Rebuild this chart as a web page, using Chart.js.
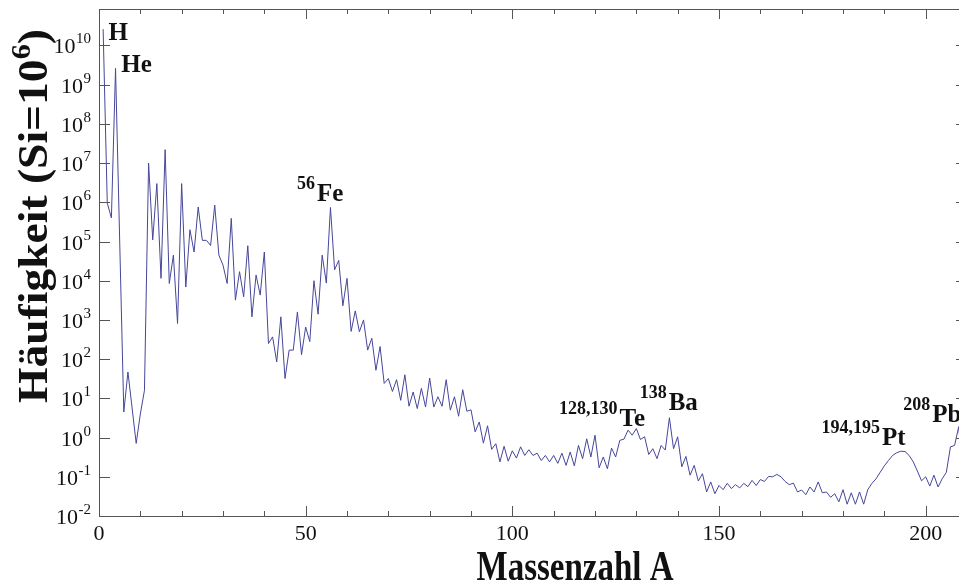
<!DOCTYPE html>
<html>
<head>
<meta charset="utf-8">
<script src="https://cdn.jsdelivr.net/npm/chart.js@4.4.0/dist/chart.umd.min.js"></script>
<style>
    html, body { margin: 0; padding: 0; background: #fff; overflow: hidden; }
    canvas { display: block; }
</style>
</head>
<body>
<canvas id="abundance-chart" width="975" height="583"></canvas>
<script>
// Haeufigkeit je Massenzahl A (Si = 10^6), null = kein stabiles Nuklid
var firstMass = 1
var abundance = [
    2.6e10, 9.5e5, 4.0e5, 2.6e9, null, 4.5, 47, null, 0.71, 4.0,
    16, 1.0e7, 1.1e5, 3.0e6, 1.15e4, 2.2e7, 8.5e3, 4.5e4, 810, 3.0e6,
    6.9e3, 2.0e5, 5.4e4, 7.6e5, 1.07e5, 1.07e5, 7.9e4, 8.5e5, 4.5e4, 2.5e4,
    8.5e3, 3.9e5, 3.2e3, 1.7e4, 3.9e3, 7.8e4, 1.2e3, 1.4e4, 4.3e3, 5.4e4,
    250, 370, 85, 1.2e3, 32, 170, 170, 1.6e3, 130, 660,
    280, 1.0e4, 1.4e3, 4.5e4, 8.7e3, 7.4e5, 1.9e4, 3.3e4, 2.3e3, 1.15e4,
    510, 1.7e3, 500, 1.0e3, 170, 340, 52, 210, 24, 32,
    15, 30, 8.9, 40, 6.3, 14.5, 5.5, 18, 6.0, 33,
    6.0, 11, 6.3, 30, 5.0, 11, 3.5, 16.6, 4.7, 5.1,
    1.4, 2.5, 0.72, 2.0, 0.5, 0.7, 0.24, 0.6, 0.25, 0.46,
    0.3, 0.58, 0.35, 0.49, 0.35, 0.4, 0.26, 0.35, 0.24, 0.35,
    0.22, 0.4, 0.195, 0.43, 0.19, 0.63, 0.29, 0.93, 0.32, 1.15,
    0.17, 0.32, 0.16, 0.54, 0.32, 0.85, 0.91, 1.55, 1.15, 1.7,
    0.89, 1.05, 0.37, 0.52, 0.29, 0.63, 0.48, 3.2, 0.52, 1.05,
    0.18, 0.33, 0.11, 0.195, 0.078, 0.12, 0.041, 0.074, 0.037, 0.06,
    0.047, 0.068, 0.05, 0.063, 0.052, 0.068, 0.056, 0.081, 0.06, 0.085,
    0.076, 0.102, 0.1, 0.115, 0.1, 0.076, 0.063, 0.069, 0.041, 0.046,
    0.035, 0.055, 0.041, 0.074, 0.039, 0.041, 0.03, 0.037, 0.023, 0.047,
    0.02, 0.039, 0.02, 0.041, 0.02, 0.047, 0.068, 0.089, 0.13, 0.19,
    0.26, 0.35, 0.41, 0.45, 0.44, 0.35, 0.24, 0.14, 0.079, 0.1,
    0.058, 0.11, 0.055, 0.089, 0.13, 0.58, 0.63, 1.9, 0.14
]

var xTicks = [0, 10, 20, 30, 40, 50, 60, 70, 80, 90, 100, 110, 120, 130, 140, 150, 160, 170, 180, 190, 200, 210]
var xLabels = [0, 50, 100, 150, 200]
var yDecades = [-2, -1, 0, 1, 2, 3, 4, 5, 6, 7, 8, 9, 10]

var peakSymbols = ["H", "He", "Fe", "Te", "Ba", "Pt", "Pb"]
var peakMasses = ["", "", "56", "128,130", "138", "194,195", "208"]
// where each peak label sits (left edge / baseline, in data units)
var peakAnchors = [
    { mass: 2.3, value: 1.4e10 },
    { mass: 5.4, value: 2.1e9 },
    { mass: 47.9, value: 1.1e6 },
    { mass: 111.3, value: 2.0 },
    { mass: 130.8, value: 5.1 },
    { mass: 174.8, value: 0.63 },
    { mass: 194.6, value: 2.5 }
]

var serif = '"Liberation Serif", "Times New Roman", serif'

var points = abundance.map(function (v, i) {
    return { x: firstMass + i, y: v }
})

function drawFrame(chart) {
    var ctx = chart.ctx
    var a = chart.chartArea
    var sx = chart.scales.x
    var sy = chart.scales.y

    ctx.save()
    ctx.strokeStyle = '#555'
    ctx.lineWidth = 1
    ctx.strokeRect(a.left + 0.5, a.top + 0.5, a.right - a.left, a.bottom - a.top)

    ctx.beginPath()
    xTicks.forEach(function (v) {
        var px = Math.round(sx.getPixelForValue(v)) + 0.5
        var len = v % 50 === 0 ? 10 : 5
        ctx.moveTo(px, a.bottom)
        ctx.lineTo(px, a.bottom - len)
        ctx.moveTo(px, a.top)
        ctx.lineTo(px, a.top + len)
    })
    yDecades.forEach(function (d) {
        var py = Math.round(sy.getPixelForValue(Math.pow(10, d))) + 0.5
        ctx.moveTo(a.left, py)
        ctx.lineTo(a.left + 11, py)
        ctx.moveTo(a.right, py)
        ctx.lineTo(a.right - 11, py)
    })
    ctx.stroke()
    ctx.restore()
}

function drawTickLabels(chart) {
    var ctx = chart.ctx
    var a = chart.chartArea

    ctx.save()
    ctx.fillStyle = '#111'
    ctx.textBaseline = 'alphabetic'

    ctx.font = '22px ' + serif
    ctx.textAlign = 'center'
    xLabels.forEach(function (v) {
        ctx.fillText(String(v), chart.scales.x.getPixelForValue(v), a.bottom + 24)
    })

    ctx.textAlign = 'right'
    yDecades.forEach(function (d) {
        var py = chart.scales.y.getPixelForValue(Math.pow(10, d))
        var right = a.left - 8
        var sup = String(d)
        ctx.font = '15px ' + serif
        ctx.fillText(sup, right, py - 2)
        var w = ctx.measureText(sup).width
        ctx.font = '22px ' + serif
        ctx.fillText('10', right - w - 0.5, py + 8)
    })
    ctx.restore()
}

function drawPeakLabels(chart) {
    var ctx = chart.ctx

    ctx.save()
    ctx.fillStyle = '#111'
    ctx.textAlign = 'left'
    ctx.textBaseline = 'alphabetic'
    peakAnchors.forEach(function (p, i) {
        var px = chart.scales.x.getPixelForValue(p.mass)
        var py = chart.scales.y.getPixelForValue(p.value)
        var sup = peakMasses[i]
        if (sup) {
            ctx.font = 'bold 18px ' + serif
            ctx.fillText(sup, px, py - 12)
            px += ctx.measureText(sup).width + 2
        }
        ctx.font = 'bold 25px ' + serif
        ctx.fillText(peakSymbols[i], px, py)
    })
    ctx.restore()
}

function drawTitles(chart) {
    var ctx = chart.ctx

    // x title, narrow and tall
    ctx.save()
    ctx.fillStyle = '#111'
    ctx.font = 'bold 43px ' + serif
    var xTitle = 'Massenzahl A'
    var w = ctx.measureText(xTitle).width
    ctx.translate(575, 580)
    ctx.scale(197 / w, 1)
    ctx.textAlign = 'center'
    ctx.fillText(xTitle, 0, 0)
    ctx.restore()

    // y title with superscript exponent
    ctx.save()
    ctx.fillStyle = '#111'
    ctx.translate(47, 216)
    ctx.rotate(-Math.PI / 2)
    var head = 'Häufigkeit (Si=10'
    ctx.font = 'bold 42px ' + serif
    var w1 = ctx.measureText(head).width
    var w3 = ctx.measureText(')').width
    ctx.font = 'bold 28px ' + serif
    var w2 = ctx.measureText('6').width
    var total = w1 + w2 + w3
    ctx.scale(374 / total, 1)
    var x0 = -total / 2
    ctx.textAlign = 'left'
    ctx.font = 'bold 42px ' + serif
    ctx.fillText(head, x0, 0)
    ctx.fillText(')', x0 + w1 + w2, 0)
    ctx.font = 'bold 28px ' + serif
    ctx.fillText('6', x0 + w1, -17)
    ctx.restore()
}

var decorations = {
    id: 'decorations',
    afterDatasetsDraw: function (chart) {
        drawFrame(chart)
        drawTickLabels(chart)
        drawPeakLabels(chart)
        drawTitles(chart)
    }
}

var chart = new Chart(document.getElementById('abundance-chart'), {
    type: 'line',
    data: {
        datasets: [
            {
                label: 'Häufigkeit',
                data: points,
                borderColor: '#46469a',
                borderWidth: 1,
                pointRadius: 0,
                tension: 0,
                spanGaps: true,
                fill: false
            }
        ]
    },
    options: {
        responsive: false,
        animation: false,
        devicePixelRatio: 1,
        layout: { padding: { left: 99, top: 9, right: 8, bottom: 67 } },
        plugins: {
            legend: { display: false },
            tooltip: { enabled: false }
        },
        scales: {
            x: { type: 'linear', min: 0, max: 210, display: false },
            y: { type: 'logarithmic', min: 0.01, max: 8.5e10, display: false }
        }
    },
    plugins: [decorations]
});
</script>
</body>
</html>
